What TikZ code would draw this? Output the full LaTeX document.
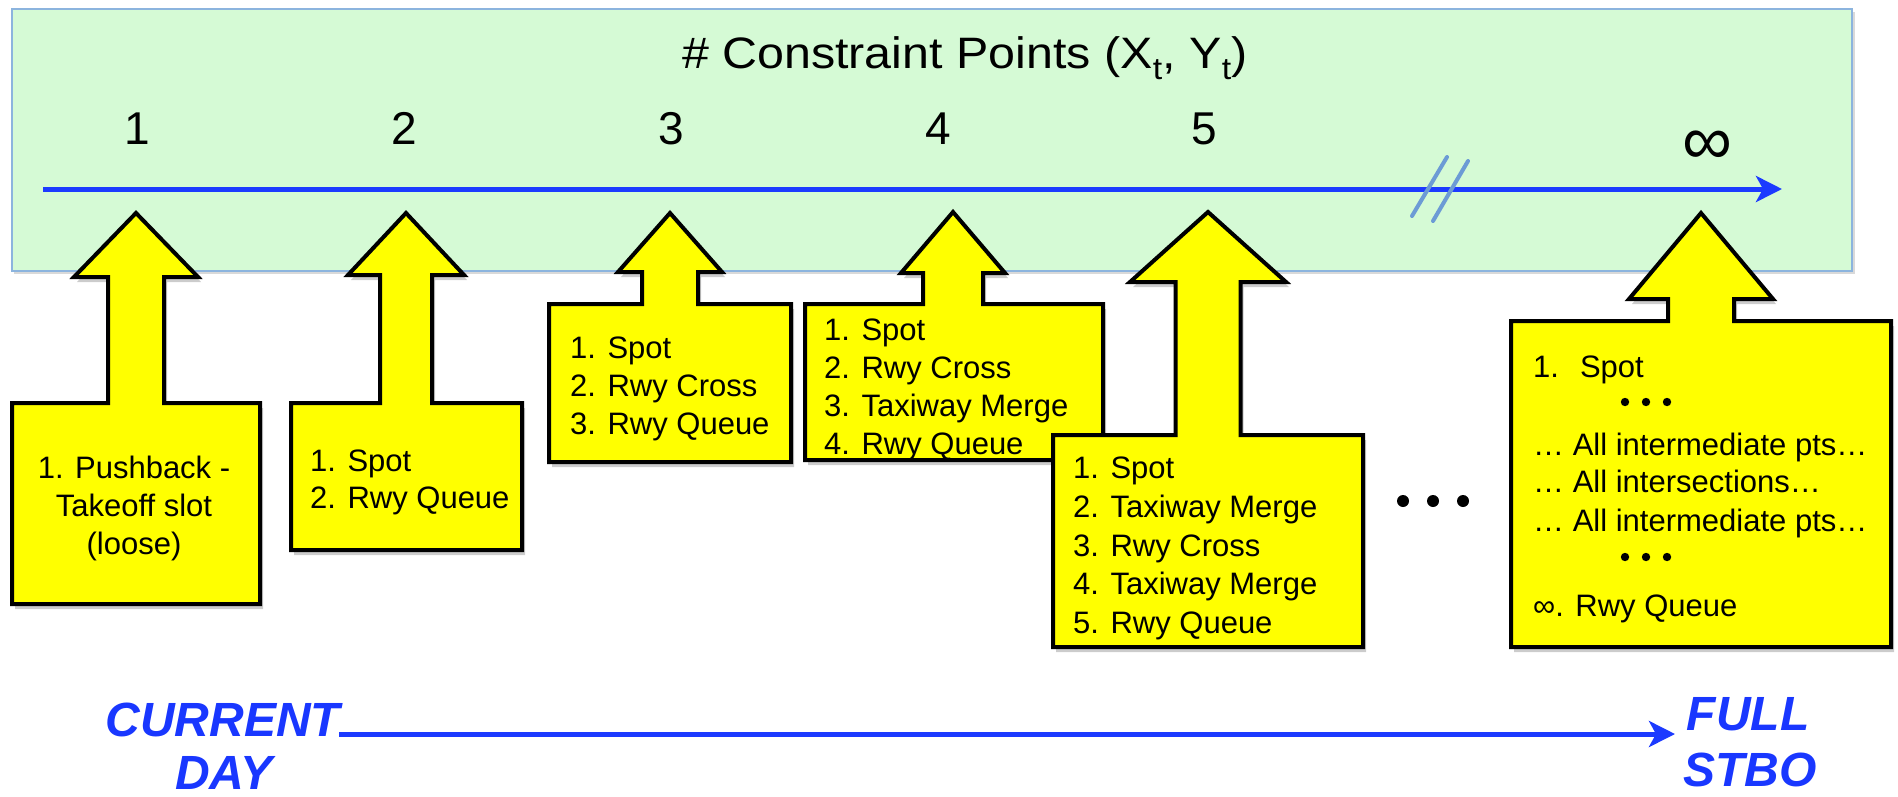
\documentclass[tikz,border=0pt]{standalone}
\usepackage{fontspec}
\setmainfont{Liberation Sans}
\usetikzlibrary{arrows.meta}
\definecolor{bgreen}{RGB}{213,250,213}
\definecolor{bborder}{RGB}{140,180,222}
\definecolor{lineblue}{RGB}{28,58,255}
\definecolor{txtblue}{RGB}{25,55,255}
\definecolor{slashblue}{RGB}{108,155,213}
\definecolor{yel}{RGB}{255,255,0}
\tikzset{
  ybox/.style={fill=yel, draw=black, line width=4pt, line join=miter},
  yshadow/.style={fill=black, opacity=0.2, draw=none},
  boxtext/.style={font=\fontsize{31}{38}\selectfont, inner sep=0pt, anchor=base west},
  boxtextc/.style={boxtext, anchor=base},
  numtext/.style={font=\fontsize{46}{50}\selectfont, inner sep=0pt, anchor=base},
  endtext/.style={font=\fontsize{48}{56}\selectfont\bfseries\itshape, text=txtblue, inner sep=0pt, anchor=base},
  blueaxis/.style={draw=lineblue, line width=5pt, -{Stealth[length=26pt,width=26pt,inset=7pt]}},
  slash/.style={draw=slashblue, line width=4pt, line cap=round},
  dotmark/.style={fill=black, draw=none}
}
% cx, tipy, headbase, headhalf, shafthalf, left, right, top, bottom
\newcommand{\ArrowBox}[9]{%
  \fill[yshadow, shift={(3,5)}] (#1,#2) -- ({#1+#4},#3) -- ({#1+#5},#3) -- ({#1+#5},#8) -- (#7,#8) -- (#7,#9) -- (#6,#9) -- (#6,#8) -- ({#1-#5},#8) -- ({#1-#5},#3) -- ({#1-#4},#3) -- cycle;
  \draw[ybox] (#1,#2) -- ({#1+#4},#3) -- ({#1+#5},#3) -- ({#1+#5},#8) -- (#7,#8) -- (#7,#9) -- (#6,#9) -- (#6,#8) -- ({#1-#5},#8) -- ({#1-#5},#3) -- ({#1-#4},#3) -- cycle;
}
\begin{document}
\begin{tikzpicture}[x=1pt,y=-1pt]
\useasboundingbox (0,0) rectangle (1898,796);
\fill[white] (0,0) rectangle (1898,796);
% green panel
\fill[black, opacity=0.15] (14,12) rectangle (1855,274);
\draw[fill=bgreen, draw=bborder, line width=2pt] (12,9) rectangle (1852,271);
\node[font=\fontsize{44}{50}\selectfont, inner sep=0pt, anchor=base] (title) at (965,68)
  {\scalebox{1.1}[1]{\# Constraint Points (X\textsubscript{t}, Y\textsubscript{t})}};
\node[numtext] (n1) at (137,144.5) {1};
\node[numtext] (n2) at (404,144.5) {2};
\node[numtext] (n3) at (671,144.5) {3};
\node[numtext] (n4) at (938,144.5) {4};
\node[numtext] (n5) at (1204,144.5) {5};
\node[font=\fontsize{70}{70}\selectfont, inner sep=0pt] (ninf) at (1707,148) {∞};
% axis
\coordinate (axstart) at (43,189);
\coordinate (axend) at (1782,189);
\draw[blueaxis] (axstart) -- (axend);
\draw[slash] (1412,216) -- (1447,157);
\draw[slash] (1433,221) -- (1468,161);
% yellow arrow boxes
\ArrowBox{136}{213}{277}{62}{28}{12}{260}{403}{604}
\ArrowBox{406}{213}{275}{58}{26}{291}{522}{403}{550}
\ArrowBox{670}{213}{272}{52}{28}{549}{791}{304}{462}
\ArrowBox{953}{212}{273}{52}{30}{805}{1103}{304}{460}
\ArrowBox{1208}{212}{282}{78}{32.5}{1053}{1363}{435}{647}
\ArrowBox{1701}{213}{299}{72}{33}{1511}{1891}{321}{647}
% box 1
\node[boxtextc] (b1a) at (134,478) {1. Pushback -};
\node[boxtextc] (b1b) at (134,516) {Takeoff slot};
\node[boxtextc] (b1c) at (134,554) {(loose)};
% box 2
\node[boxtext] (b2a) at (310,471) {1. Spot};
\node[boxtext] (b2b) at (310,508) {2. Rwy Queue};
% box 3
\node[boxtext] (b3a) at (570,358) {1. Spot};
\node[boxtext] (b3b) at (570,396) {2. Rwy Cross};
\node[boxtext] (b3c) at (570,434) {3. Rwy Queue};
% box 4
\node[boxtext] (b4a) at (824,340) {1. Spot};
\node[boxtext] (b4b) at (824,378) {2. Rwy Cross};
\node[boxtext] (b4c) at (824,416) {3. Taxiway Merge};
\node[boxtext] (b4d) at (824,454) {4. Rwy Queue};
% box 5
\node[boxtext] (b5a) at (1073,478) {1. Spot};
\node[boxtext] (b5b) at (1073,517) {2. Taxiway Merge};
\node[boxtext] (b5c) at (1073,556) {3. Rwy Cross};
\node[boxtext] (b5d) at (1073,594) {4. Taxiway Merge};
\node[boxtext] (b5e) at (1073,633) {5. Rwy Queue};
% dots between
\fill[dotmark] (1403,501) circle (6) (1433,501) circle (6) (1463,501) circle (6);
% box 6
\node[boxtext] (b6a) at (1533,377) {1.\hspace{21pt}Spot};
\fill[dotmark] (1625,402) circle (4.2) (1646,402) circle (4.2) (1667,402) circle (4.2);
\node[boxtext] (b6b) at (1533,455) {… All intermediate pts…};
\node[boxtext] (b6c) at (1533,492) {… All intersections…};
\node[boxtext] (b6d) at (1533,531) {… All intermediate pts…};
\fill[dotmark] (1625,557) circle (4.2) (1646,557) circle (4.2) (1667,557) circle (4.2);
\node[boxtext] (b6e) at (1533,616) {∞. Rwy Queue};
% bottom
\node[endtext] (cur) at (223,736) {CURRENT};
\node[endtext] (day) at (224,789) {DAY};
\node[endtext] (full) at (1748,730) {FULL};
\node[endtext] (stbo) at (1750,786) {STBO};
\coordinate (bstart) at (339,734);
\coordinate (bend) at (1675,734);
\draw[blueaxis] (bstart) -- (bend);
\end{tikzpicture}
\end{document}
